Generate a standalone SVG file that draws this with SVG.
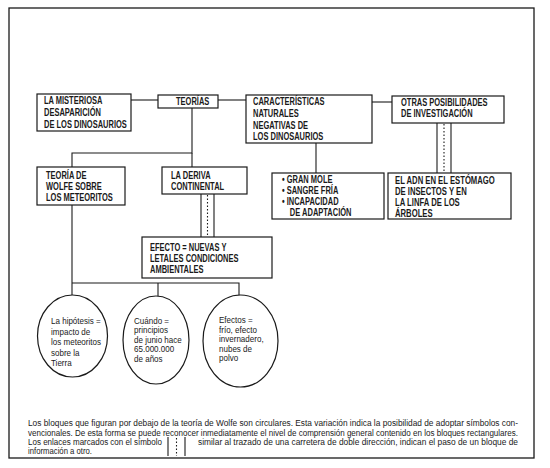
<svg xmlns="http://www.w3.org/2000/svg" width="550" height="468" viewBox="0 0 550 468">
<style>
.bx{fill:#fff;stroke:#1a1a1a;stroke-width:1.2}
.ln{fill:none;stroke:#1a1a1a;stroke-width:1.1}
.dt{fill:none;stroke:#1a1a1a;stroke-width:1.1;stroke-dasharray:1.5 2}
.t{font-family:"Liberation Sans",Arial,sans-serif;font-size:10px;font-weight:bold;fill:#1a1a1a}
.e{font-family:"Liberation Sans",Arial,sans-serif;font-size:9.8px;fill:#1a1a1a}
.f{font-family:"Liberation Sans",Arial,sans-serif;font-size:8.4px;fill:#1a1a1a}
</style>
<rect width="550" height="468" fill="#fff"/>
<rect x="9" y="8" width="525" height="450" fill="none" stroke="#1a1a1a" stroke-width="1.3"/>
<g id="connectors">
<line class="ln" x1="131" y1="100" x2="158" y2="100"/>
<line class="ln" x1="218" y1="100" x2="246" y2="100"/>
<line class="ln" x1="372" y1="102" x2="392" y2="102"/>
<line class="ln" x1="316" y1="143" x2="316" y2="173"/>
<polyline class="ln" points="72,167 72,153 192,153 192,108"/>
<line class="ln" x1="192" y1="153" x2="192" y2="167"/>
<line class="ln" x1="437" y1="123" x2="437" y2="173"/>
<line class="ln" x1="451" y1="123" x2="451" y2="173"/>
<line class="dt" x1="444" y1="124" x2="444" y2="173"/>
<line class="ln" x1="201" y1="194" x2="201" y2="237"/>
<line class="ln" x1="214" y1="194" x2="214" y2="237"/>
<line class="dt" x1="207.5" y1="195" x2="207.5" y2="237"/>
<polyline class="ln" points="72,205 72,295"/>
<polyline class="ln" points="72,283 239,283 239,295"/>
<line class="ln" x1="158" y1="283" x2="158" y2="296"/>
</g>
<g id="n-misteriosa">
<rect class="bx" x="37" y="94" width="94" height="37"/>
<g transform="translate(44 0) scale(0.75 1)">
<text class="t" x="0" y="104.3">LA MISTERIOSA</text>
<text class="t" x="0" y="116">DESAPARICIÓN</text>
<text class="t" x="0" y="127.8">DE LOS DINOSAURIOS</text>
</g>
</g>
<g id="n-teorias">
<rect class="bx" x="158" y="95" width="60" height="13"/>
<g transform="translate(176 0) scale(0.75 1)">
<text class="t" x="0" y="105.2">TEORÍAS</text>
</g>
</g>
<g id="n-caracteristicas">
<rect class="bx" x="246" y="95" width="126" height="48"/>
<g transform="translate(253 0) scale(0.75 1)">
<text class="t" x="0" y="105.3">CARACTERÍSTICAS</text>
<text class="t" x="0" y="117">NATURALES</text>
<text class="t" x="0" y="128.6">NEGATIVAS DE</text>
<text class="t" x="0" y="140.3">LOS DINOSAURIOS</text>
</g>
</g>
<g id="n-otras">
<rect class="bx" x="392" y="96" width="112" height="27"/>
<g transform="translate(401 0) scale(0.75 1)">
<text class="t" x="0" y="105.8">OTRAS POSIBILIDADES</text>
<text class="t" x="0" y="117.3">DE INVESTIGACIÓN</text>
</g>
</g>
<g id="n-gran-mole">
<rect class="bx" x="272" y="173" width="112" height="46"/>
<g transform="translate(282 0) scale(0.75 1)">
<text class="t" x="0" y="182.8">• GRAN MOLE</text>
<text class="t" x="0" y="193.8">• SANGRE FRÍA</text>
<text class="t" x="0" y="205.3">• INCAPACIDAD</text>
<text class="t" x="10.5" y="216">DE ADAPTACIÓN</text>
</g>
</g>
<g id="n-adn">
<rect class="bx" x="388" y="173" width="123" height="46"/>
<g transform="translate(395 0) scale(0.77 1)">
<text class="t" x="0" y="183.8">EL ADN EN EL ESTÓMAGO</text>
<text class="t" x="0" y="194.8">DE INSECTOS Y EN</text>
<text class="t" x="0" y="206">LA LINFA DE LOS</text>
<text class="t" x="0" y="217.3">ÁRBOLES</text>
</g>
</g>
<g id="n-wolfe">
<rect class="bx" x="37" y="167" width="88" height="38"/>
<g transform="translate(46 0) scale(0.75 1)">
<text class="t" x="0" y="178.8">TEORÍA DE</text>
<text class="t" x="0" y="189.8">WOLFE SOBRE</text>
<text class="t" x="0" y="201.3">LOS METEORITOS</text>
</g>
</g>
<g id="n-deriva">
<rect class="bx" x="162" y="167" width="85" height="27"/>
<g transform="translate(171 0) scale(0.75 1)">
<text class="t" x="0" y="178.8">LA DERIVA</text>
<text class="t" x="0" y="189.8">CONTINENTAL</text>
</g>
</g>
<g id="n-efecto">
<rect class="bx" x="142" y="237" width="130" height="41"/>
<g transform="translate(150 0) scale(0.75 1)">
<text class="t" x="0" y="251">EFECTO = NUEVAS Y</text>
<text class="t" x="0" y="262">LETALES CONDICIONES</text>
<text class="t" x="0" y="273">AMBIENTALES</text>
</g>
</g>
<g id="n-hipotesis">
<ellipse class="bx" cx="72.5" cy="336" rx="35" ry="41"/>
<g transform="translate(51 0) scale(0.82 1)">
<text class="e" x="0" y="324.3">La hipótesis =</text>
<text class="e" x="0" y="334.8">impacto de</text>
<text class="e" x="0" y="345.3">los meteoritos</text>
<text class="e" x="0" y="355.8">sobre la</text>
<text class="e" x="0" y="366.3">Tierra</text>
</g>
</g>
<g id="n-cuando">
<ellipse class="bx" cx="156" cy="340" rx="33" ry="44"/>
<g transform="translate(134 0) scale(0.82 1)">
<text class="e" x="0" y="323.8">Cuándo =</text>
<text class="e" x="0" y="333.3">principios</text>
<text class="e" x="0" y="342.8">de junio hace</text>
<text class="e" x="0" y="352.3">65.000.000</text>
<text class="e" x="0" y="361.8">de años</text>
</g>
</g>
<g id="n-efectos">
<ellipse class="bx" cx="240.5" cy="341" rx="37.5" ry="46"/>
<g transform="translate(219 0) scale(0.82 1)">
<text class="e" x="0" y="323.3">Efectos =</text>
<text class="e" x="0" y="332.8">frío, efecto</text>
<text class="e" x="0" y="342.3">invernadero,</text>
<text class="e" x="0" y="351.8">nubes de</text>
<text class="e" x="0" y="361.3">polvo</text>
</g>
</g>
<g id="footnote">
<text class="f" x="28" y="426" textLength="490" lengthAdjust="spacingAndGlyphs">Los bloques que figuran por debajo de la teoría de Wolfe son circulares. Esta variación indica la posibilidad de adoptar símbolos con-</text>
<text class="f" x="28" y="435.5" textLength="490" lengthAdjust="spacingAndGlyphs">vencionales. De esta forma se puede reconocer inmediatamente el nivel de comprensión general contenido en los bloques rectangulares.</text>
<text class="f" x="28" y="444.8" textLength="134" lengthAdjust="spacingAndGlyphs">Los enlaces marcados con el símbolo</text>
<text class="f" x="198" y="444.8" textLength="320" lengthAdjust="spacingAndGlyphs">similar al trazado de una carretera de doble dirección, indican el paso de un bloque de</text>
<text class="f" x="28" y="454" textLength="64" lengthAdjust="spacingAndGlyphs">información a otro.</text>
<line class="ln" x1="168" y1="437" x2="168" y2="456"/>
<line class="ln" x1="185" y1="437" x2="185" y2="456"/>
<line class="dt" x1="176.5" y1="438" x2="176.5" y2="456"/>
</g>
</svg>
